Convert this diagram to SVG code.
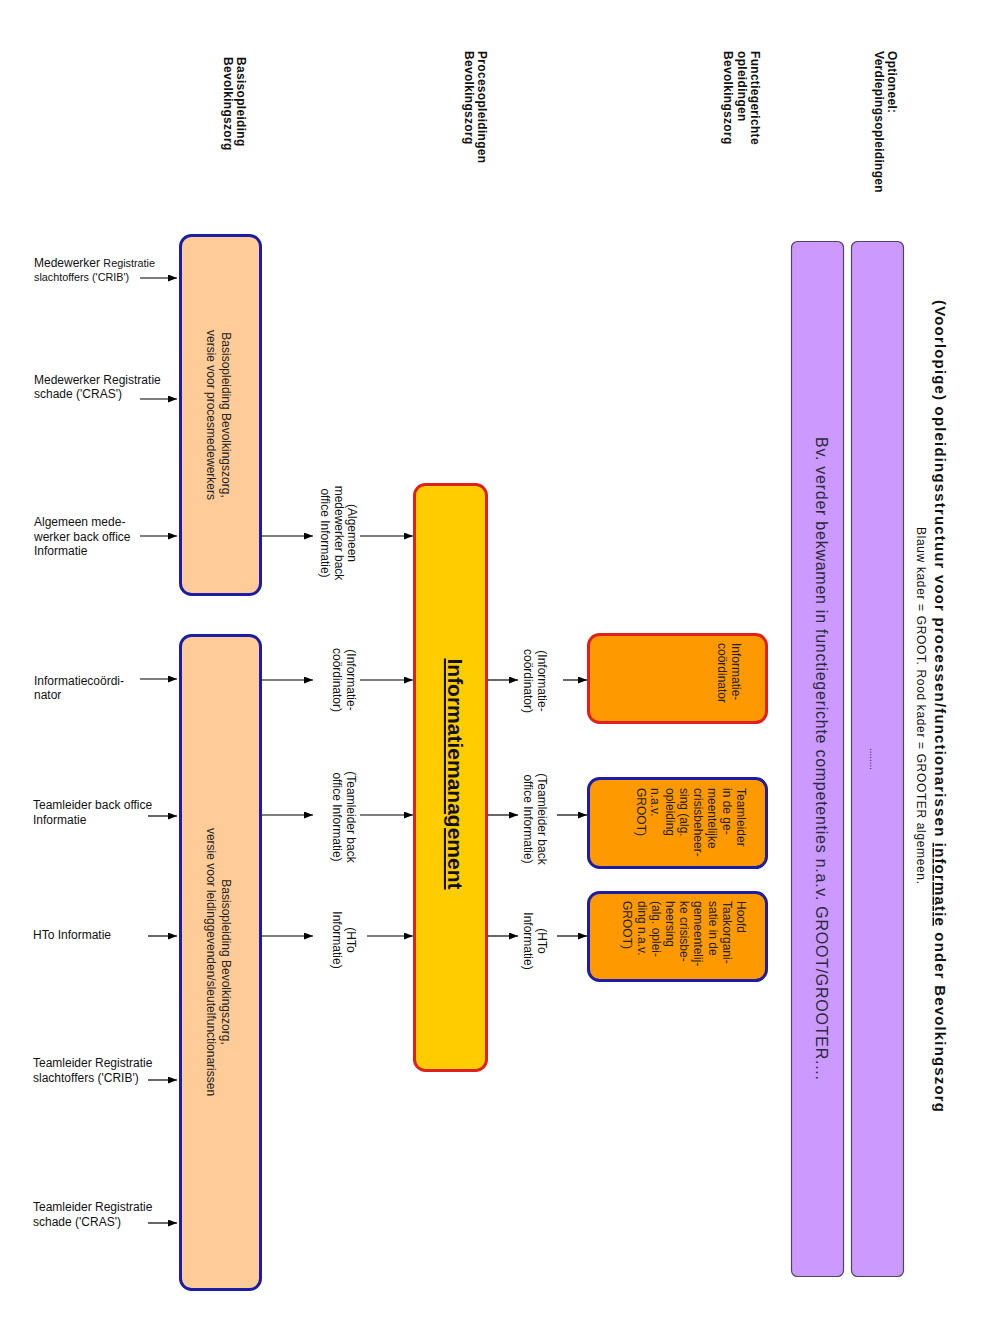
<svg xmlns="http://www.w3.org/2000/svg" width="1008" height="1344" viewBox="0 0 1008 1344">
<style>
text{font-family:"Liberation Sans",Arial,sans-serif;fill:#111}
.hdr{font-size:12px;font-weight:bold;letter-spacing:0.3px}
.lbl{font-size:12px}
.sm{font-size:10.8px}
.box{font-size:12px;fill:#222}
.peach{fill:#ffcc99;stroke:#1c1ca6;stroke-width:3}
.yellow{fill:#ffcc00;stroke:#e0201c;stroke-width:3}
.orR{fill:#ff9900;stroke:#e0201c;stroke-width:3}
.orB{fill:#ff9900;stroke:#1c1ca6;stroke-width:3}
.purp{fill:#cc99ff;stroke:#4f4560;stroke-width:1.2}
.con line{stroke:#000;stroke-width:1.2;marker-end:url(#ah)}
</style>
<defs>
<marker id="ah" markerWidth="9" markerHeight="7" refX="9" refY="3.5" orient="auto" markerUnits="userSpaceOnUse"><path d="M0,0 L9,3.5 L0,7 z" fill="#000"/></marker>
</defs>
<rect width="1008" height="1344" fill="#fff"/>

<g id="headers">
<text class="hdr" transform="translate(237,57) rotate(90)"><tspan x="0" dy="0">Basisopleiding</tspan><tspan x="0" dy="13.5">Bevolkingszorg</tspan></text>
<text class="hdr" transform="translate(478,51) rotate(90)"><tspan x="0" dy="0">Procesopleidingen</tspan><tspan x="0" dy="13.5">Bevolkingszorg</tspan></text>
<text class="hdr" transform="translate(751,51) rotate(90)"><tspan x="0" dy="0">Functiegerichte</tspan><tspan x="0" dy="13.5">opleidingen</tspan><tspan x="0" dy="13.5">Bevolkingszorg</tspan></text>
<text class="hdr" transform="translate(888,51) rotate(90)"><tspan x="0" dy="0">Optioneel:</tspan><tspan x="0" dy="13.5">Verdiepingsopleidingen</tspan></text>
</g>

<g id="title">
<text transform="translate(935,300) rotate(90)" style="font-size:15px;font-weight:bold" textLength="812" lengthAdjust="spacing">(Voorlopige) opleidingsstructuur voor processen/functionarissen <tspan text-decoration="underline">informatie</tspan> onder Bevolkingszorg</text>
<text transform="translate(917,527) rotate(90)" style="font-size:12px" textLength="357" lengthAdjust="spacing">Blauw kader = GROOT. Rood kader = GROOTER algemeen.</text>
</g>

<g id="verdieping-a">
<rect class="purp" x="791.5" y="241.5" width="52" height="1035" rx="6"/>
<text transform="translate(816,758.5) rotate(90)" text-anchor="middle" style="font-size:16px;fill:#2a2a3a" textLength="643" lengthAdjust="spacing">Bv. verder bekwamen in functiegerichte competenties n.a.v. GROOT/GROOTER....</text>
</g>
<g id="verdieping-b">
<rect class="purp" x="851.5" y="241.5" width="52" height="1035" rx="6"/>
<text transform="translate(870,759) rotate(90)" text-anchor="middle" style="font-size:10px;fill:#2a2a3a">........</text>
</g>

<g id="basis-proces">
<rect class="peach" x="180.5" y="235.5" width="80" height="359" rx="11"/>
<text class="box" transform="translate(222,415) rotate(90)" text-anchor="middle"><tspan x="0" dy="0">Basisopleiding Bevolkingszorg,</tspan><tspan x="0" dy="15">versie voor procesmedewerkers</tspan></text>
</g>
<g id="basis-leiding">
<rect class="peach" x="180.5" y="635.5" width="80" height="654" rx="11"/>
<text class="box" transform="translate(222,962) rotate(90)" text-anchor="middle"><tspan x="0" dy="0">Basisopleiding Bevolkingszorg,</tspan><tspan x="0" dy="15">versie voor leidinggevenden/sleutelfunctionarissen</tspan></text>
</g>

<g id="informatiemanagement">
<rect class="yellow" x="414.5" y="484.5" width="72" height="586" rx="11"/>
<text transform="translate(448,774) rotate(90)" text-anchor="middle" style="font-size:21px;font-weight:bold" text-decoration="underline">Informatiemanagement</text>
</g>

<g id="func-coordinator">
<rect class="orR" x="588.5" y="634.5" width="178" height="88" rx="11"/>
<text class="box" transform="translate(732,643) rotate(90)"><tspan x="0" dy="0">Informatie-</tspan><tspan x="0" dy="14.3">coördinator</tspan></text>
</g>
<g id="func-teamleider">
<rect class="orB" x="588.5" y="778.5" width="178" height="89" rx="11"/>
<text class="box" transform="translate(737,788) rotate(90)"><tspan x="0" dy="0">Teamleider</tspan><tspan x="0" dy="14.3">in de ge-</tspan><tspan x="0" dy="14.3">meentelijke</tspan><tspan x="0" dy="14.3">crisisbeheer-</tspan><tspan x="0" dy="14.3">sing (alg.</tspan><tspan x="0" dy="14.3">opleiding</tspan><tspan x="0" dy="14.3">n.a.v.</tspan><tspan x="0" dy="14.3">GROOT)</tspan></text>
</g>
<g id="func-hoofd">
<rect class="orB" x="588.5" y="892.5" width="178" height="88" rx="11"/>
<text class="box" transform="translate(737,901) rotate(90)"><tspan x="0" dy="0">Hoofd</tspan><tspan x="0" dy="14.2">Taakorgani-</tspan><tspan x="0" dy="14.2">satie in de</tspan><tspan x="0" dy="14.2">gemeentelij-</tspan><tspan x="0" dy="14.2">ke crisisbe-</tspan><tspan x="0" dy="14.2">heersing</tspan><tspan x="0" dy="14.2">(alg. oplei-</tspan><tspan x="0" dy="14.2">ding n.a.v.</tspan><tspan x="0" dy="14.2">GROOT)</tspan></text>
</g>

<g id="functionarissen">
<text class="lbl" x="34" y="267">Medewerker <tspan class="sm">Registratie</tspan><tspan class="sm" x="34" dy="14">slachtoffers ('CRIB')</tspan></text>
<text class="lbl" x="34" y="384">Medewerker Registratie<tspan x="34" dy="14">schade ('CRAS')</tspan></text>
<text class="lbl" x="34" y="526">Algemeen mede-<tspan x="34" dy="14.5">werker back office</tspan><tspan x="34" dy="14.5">Informatie</tspan></text>
<text class="lbl" x="34" y="685">Informatiecoördi-<tspan x="34" dy="14">nator</tspan></text>
<text class="lbl" x="33" y="809">Teamleider back office<tspan x="33" dy="15">Informatie</tspan></text>
<text class="lbl" x="33" y="939">HTo Informatie</text>
<text class="lbl" x="33" y="1067">Teamleider Registratie<tspan x="33" dy="15">slachtoffers ('CRIB')</tspan></text>
<text class="lbl" x="33" y="1211">Teamleider Registratie<tspan x="33" dy="14.5">schade ('CRAS')</tspan></text>
</g>

<g id="connector-labels">
<text class="lbl" transform="translate(348,533) rotate(90)" text-anchor="middle"><tspan x="0" dy="0">(Algemeen</tspan><tspan x="0" dy="13.5">medewerker back</tspan><tspan x="0" dy="13.5">office Informatie)</tspan></text>
<text class="lbl" transform="translate(347,680) rotate(90)" text-anchor="middle"><tspan x="0" dy="0">(Informatie-</tspan><tspan x="0" dy="14">coördinator)</tspan></text>
<text class="lbl" transform="translate(347,817) rotate(90)" text-anchor="middle"><tspan x="0" dy="0">(Teamleider back</tspan><tspan x="0" dy="14">office Informatie)</tspan></text>
<text class="lbl" transform="translate(347,940) rotate(90)" text-anchor="middle"><tspan x="0" dy="0">(HTo</tspan><tspan x="0" dy="14">Informatie)</tspan></text>
<text class="lbl" transform="translate(538,681) rotate(90)" text-anchor="middle"><tspan x="0" dy="0">(Informatie-</tspan><tspan x="0" dy="14">coördinator)</tspan></text>
<text class="lbl" transform="translate(538,819) rotate(90)" text-anchor="middle"><tspan x="0" dy="0">(Teamleider back</tspan><tspan x="0" dy="14">office Informatie)</tspan></text>
<text class="lbl" transform="translate(538,941) rotate(90)" text-anchor="middle"><tspan x="0" dy="0">(HTo</tspan><tspan x="0" dy="14">Informatie)</tspan></text>
</g>

<g id="connectors" class="con">
<line x1="140" y1="278" x2="177" y2="278"/>
<line x1="140" y1="399" x2="177" y2="399"/>
<line x1="140" y1="536" x2="177" y2="536"/>
<line x1="140" y1="679" x2="177" y2="679"/>
<line x1="148" y1="816" x2="177" y2="816"/>
<line x1="148" y1="936" x2="177" y2="936"/>
<line x1="148" y1="1080" x2="177" y2="1080"/>
<line x1="148" y1="1223" x2="177" y2="1223"/>

<line x1="262" y1="536" x2="313" y2="536"/>
<line x1="360" y1="536" x2="413" y2="536"/>
<line x1="262" y1="680" x2="313" y2="680"/>
<line x1="360" y1="680" x2="413" y2="680"/>
<line x1="262" y1="815" x2="313" y2="815"/>
<line x1="360" y1="815" x2="413" y2="815"/>
<line x1="262" y1="936" x2="313" y2="936"/>
<line x1="367" y1="936" x2="413" y2="936"/>

<line x1="488" y1="680" x2="518" y2="680"/>
<line x1="563" y1="680" x2="587" y2="680"/>
<line x1="488" y1="815" x2="518" y2="815"/>
<line x1="557" y1="815" x2="587" y2="815"/>
<line x1="488" y1="936" x2="518" y2="936"/>
<line x1="557" y1="936" x2="587" y2="936"/>
</g>
</svg>
